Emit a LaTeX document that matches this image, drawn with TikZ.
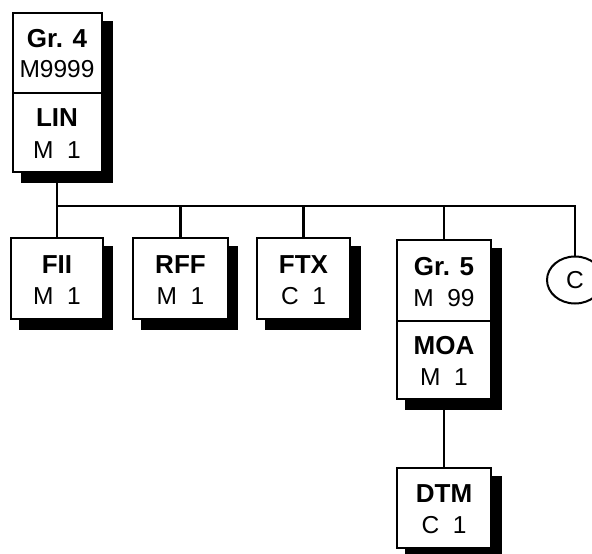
\documentclass[tikz,border=0pt]{standalone}
\usepackage{fontspec}
\setmainfont{Liberation Sans}
\usetikzlibrary{shapes.geometric}
\begin{document}
\begin{tikzpicture}[x=1pt,y=-1pt,
  box/.style={draw, fill=white, inner sep=0pt, outer sep=0pt, line width=2pt},
  shadowbox/.style={fill=black},
  ttl/.style={anchor=base, font=\fontsize{26}{26}\selectfont\bfseries, inner sep=0pt},
  sub/.style={anchor=base, font=\fontsize{24.5}{24.5}\selectfont, inner sep=0pt},
  conn/.style={line width=2.2pt},
  circ/.style={draw, ellipse, line width=2pt, minimum width=56pt, minimum height=47pt, inner sep=0pt, font=\fontsize{24.5}{24.5}\selectfont}]
\useasboundingbox (0,0) rectangle (592,554);

% connectors
\coordinate (b0) at (57,206);
\coordinate (b5) at (575,206);
\node[circ] (c) at (575,280) {C};
\draw[conn] (57,172) -- (b0) -- (b5) -- (c.north);

% shadows
\fill[shadowbox] (20.5,21) rectangle (113,183);
\fill[shadowbox] (19,246) rectangle (113,330);
\fill[shadowbox] (141,246) rectangle (238,330);
\fill[shadowbox] (265,246) rectangle (361,330);
\fill[shadowbox] (405,248) rectangle (502,410);
\fill[shadowbox] (405,476) rectangle (502,559);

% boxes
\node[box, minimum width=89pt, minimum height=80pt] (g4) at (57,53) {};
\node[box, minimum width=89pt, minimum height=79pt] (lin) at (57,132.5) {};
\node[box, minimum width=92pt, minimum height=81pt] (fii) at (57,278.5) {};
\node[box, minimum width=95pt, minimum height=81pt] (rff) at (180.5,278.5) {};
\node[box, minimum width=93pt, minimum height=81pt] (ftx) at (303.5,278.5) {};
\node[box, minimum width=94pt, minimum height=81pt] (g5) at (444,280.5) {};
\node[box, minimum width=94pt, minimum height=78pt] (moa) at (444,360) {};
\node[box, minimum width=94pt, minimum height=80pt] (dtm) at (444,508) {};

\draw[conn] (fii.north) -- (fii.north |- b0);
\draw[conn] (rff.north) -- (rff.north |- b0);
\draw[conn] (ftx.north) -- (ftx.north |- b0);
\draw[conn] (g5.north) -- (g5.north |- b0);
\draw[conn] (moa.south) -- (dtm.north);

% texts
\node[ttl] (g4t) at (57,47) {Gr. 4};
\node[sub] (g4s) at (57,77) {M9999};
\node[ttl] (lint) at (57,126) {LIN};
\node[sub] (lins) at (57,158) {M\ \ 1};
\node[ttl] (fiit) at (57,273) {FII};
\node[sub] (fiis) at (57,304) {M\ \ 1};
\node[ttl] (rfft) at (180.5,273) {RFF};
\node[sub] (rffs) at (180.5,304) {M\ \ 1};
\node[ttl] (ftxt) at (303.5,273) {FTX};
\node[sub] (ftxs) at (303.5,304) {C\ \ 1};
\node[ttl] (g5t) at (444,275) {Gr. 5};
\node[sub] (g5s) at (444,306) {M\ \ 99};
\node[ttl] (moat) at (444,354) {MOA};
\node[sub] (moas) at (444,385) {M\ \ 1};
\node[ttl] (dtmt) at (444,502) {DTM};
\node[sub] (dtms) at (444,533) {C\ \ 1};
\end{tikzpicture}
\end{document}
